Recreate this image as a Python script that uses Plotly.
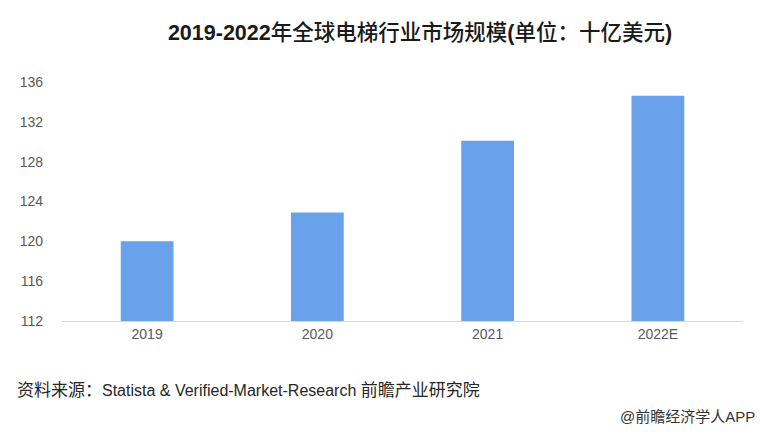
import plotly.graph_objects as go

categories = ["2019", "2020", "2021", "2022E"]
values = [120.0, 122.9, 130.1, 134.6]
tick_vals = [112, 116, 120, 124, 128, 132, 136]

font_mix = "Liberation Sans, Noto Sans CJK SC"

fig = go.Figure()
fig.add_trace(go.Bar(
    x=categories, y=values,
    marker=dict(color="#6aa1eb", line=dict(width=0)),
    width=0.31,
))

# page body has an 8px default margin; size the figure to fit the window
fig.update_layout(
    width=755, height=427,
    margin=dict(l=51, r=20, t=54, b=114),
    paper_bgcolor="white", plot_bgcolor="white",
    showlegend=False,
    title=dict(
        text="<b>2019-2022</b>年全球电梯行业市场规模<b>(</b>单位：十亿美元<b>)</b>",
        x=0.5457, xanchor="center", y=0.943, yanchor="middle",
        font=dict(family=font_mix, size=21.5, color="#1a1a1a", weight=500),
    ),
    xaxis=dict(
        showline=True, linecolor="#d9d9d9", linewidth=1,
        ticks="", tickfont=dict(family="Liberation Sans", size=14, color="#595959"),
        showgrid=False,
    ),
    yaxis=dict(
        range=[112, 138], tickvals=tick_vals,
        showgrid=False, zeroline=False, showline=False,
        tickfont=dict(family="Liberation Sans", size=14, color="#595959"),
        ticklabelstandoff=18,
    ),
)

fig.add_annotation(
    text="<span style='font-size:17px'>资料来源：</span>Statista & Verified-Market-Research <span style='font-size:17px'>前瞻产业研究院</span>",
    xref="paper", yref="paper", x=-0.0687, y=-0.2674, xanchor="left", yanchor="middle",
    showarrow=False, font=dict(family=font_mix, size=16, color="#262626"),
)
fig.add_annotation(
    text="@前瞻经济学人APP",
    xref="paper", yref="paper", x=1.0205, y=-0.368, xanchor="right", yanchor="middle",
    showarrow=False, font=dict(family=font_mix, size=15, color="#333333"),
)

fig.write_html("out.html")
